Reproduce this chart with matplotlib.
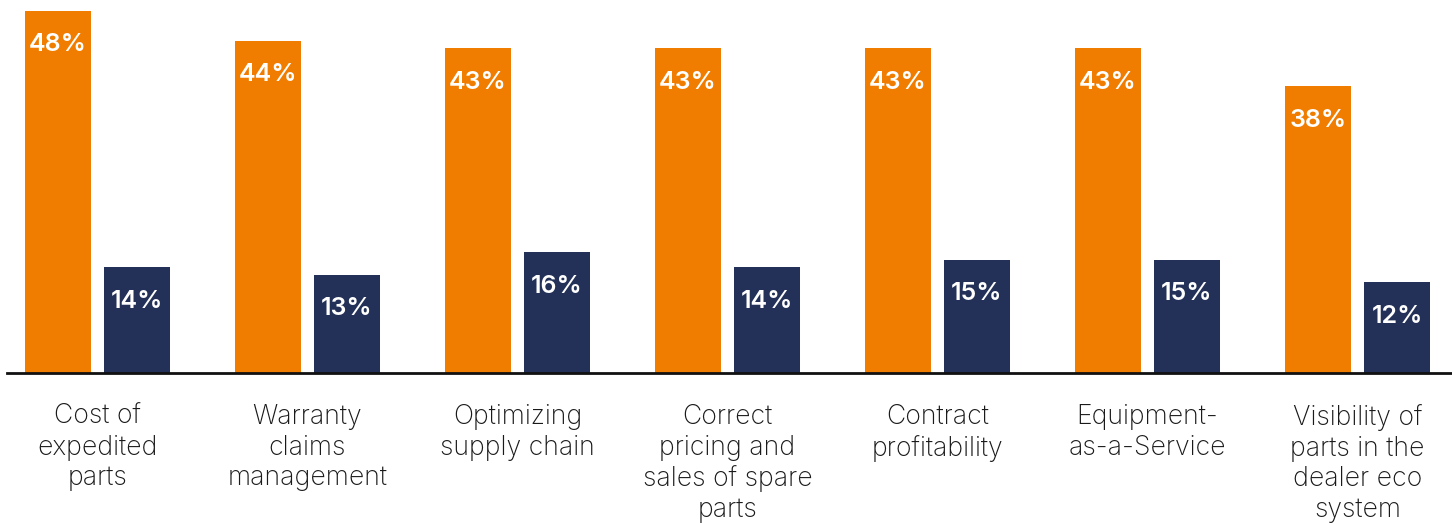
import numpy as np
import matplotlib.pyplot as plt

plt.rcParams['font.family'] = ['Inter', 'DejaVu Sans']

categories = ["Cost of\nexpedited\nparts", "Warranty\nclaims\nmanagement",
              "Optimizing\nsupply chain", "Correct\npricing and\nsales of spare\nparts",
              "Contract\nprofitability", "Equipment-\nas-a-Service",
              "Visibility of\nparts in the\ndealer eco\nsystem"]
orange_vals = [48, 44, 43, 43, 43, 43, 38]
navy_vals = [14, 13, 16, 14, 15, 15, 12]

ORANGE = '#F07D00'
NAVY = '#233158'

fig = plt.figure(figsize=(14.52, 5.23), dpi=100)
ax = fig.add_axes([7/1452, 150/523, 1 - 7/1452, 373/523])

x = np.arange(len(categories))
w = 66/210
off = 39.5/210
b1 = ax.bar(x - off, orange_vals, w, color=ORANGE)
b2 = ax.bar(x + off, navy_vals, w, color=NAVY)

ax.set_xlim(-0.431, len(categories) - 1 + 0.45)
ax.set_ylim(0, 373/7.55)

for bars in (b1, b2):
    for r in bars:
        ax.annotate(f"{r.get_height():.0f}%", (r.get_x() + r.get_width()/2, r.get_height()),
                    xytext=(0, -24.5), textcoords='offset points',
                    ha='center', va='center', color='white',
                    fontsize=18, fontweight='semibold')

for i, c in enumerate(categories):
    ax.text(i, -31/7.55, c, ha='center', va='top', fontsize=19.2,
            color='#1a1a1a', linespacing=1.23, fontweight='light')

for s in ['top', 'right', 'left']:
    ax.spines[s].set_visible(False)
ax.spines['bottom'].set_linewidth(2)
ax.spines['bottom'].set_color('#111111')
ax.set_xticks([])
ax.set_yticks([])

fig.savefig('out.png', dpi=100)
